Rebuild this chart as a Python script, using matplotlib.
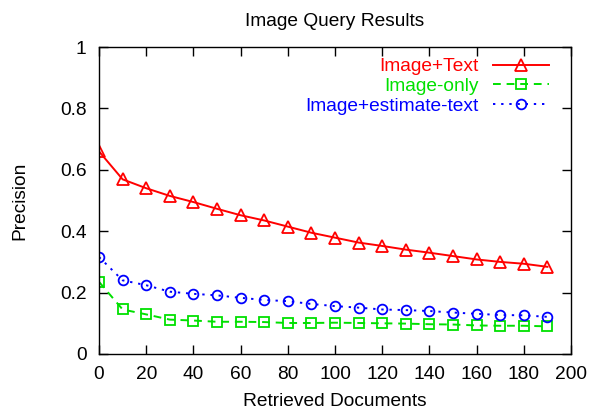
import matplotlib.pyplot as plt
import numpy as np

plt.rcParams['font.family'] = ['Liberation Sans', 'DejaVu Sans']

# retrieved documents (x) and precision per method
docs = list(range(0, 200, 10))
image_text = [0.66, 0.569, 0.54, 0.515, 0.495, 0.473, 0.452, 0.435, 0.415, 0.395,
              0.379, 0.363, 0.352, 0.340, 0.330, 0.319, 0.308, 0.300, 0.294, 0.284]
image_only = [0.235, 0.145, 0.129, 0.112, 0.109, 0.105, 0.105, 0.104, 0.101, 0.101,
              0.102, 0.101, 0.100, 0.099, 0.097, 0.096, 0.093, 0.092, 0.092, 0.090]
image_est = [0.316, 0.240, 0.224, 0.203, 0.196, 0.191, 0.183, 0.176, 0.172, 0.163,
             0.156, 0.151, 0.145, 0.143, 0.140, 0.135, 0.131, 0.127, 0.126, 0.121]

fig = plt.figure(figsize=(5.94, 4.12), dpi=100)
ax = fig.add_axes([0.1667, 0.1408, 0.7946, 0.745])

ax.plot(docs, image_text, color='#ff0000', lw=1.4, marker='^', ms=8,
        mfc='none', mew=1.3, label='Image+Text')
ax.plot(docs, image_only, color='#00e000', lw=1.4, marker='s', ms=7,
        mfc='none', mew=1.3, dashes=(4, 3), label='Image-only')
ax.plot(docs, image_est, color='#0000ff', lw=1.4, marker='o', ms=7,
        mfc='none', mew=1.3, dashes=(1.2, 3), label='Image+estimate-text')

fs = 13.8
ax.set_xlim(0, 200)
ax.set_ylim(0, 1)
ax.set_xticks(np.arange(0, 201, 20))
ax.set_yticks([0, 0.2, 0.4, 0.6, 0.8, 1])
ax.set_yticklabels(['0', '0.2', '0.4', '0.6', '0.8', '1'])
ax.tick_params(direction='in', top=True, right=True, length=6.5, width=1,
               labelsize=fs, pad=9)
for spine in ax.spines.values():
    spine.set_linewidth(1)

ax.set_title('Image Query Results', fontsize=fs, pad=15)
ax.set_xlabel('Retrieved Documents', fontsize=fs, labelpad=7)
ax.set_ylabel('Precision', fontsize=fs, labelpad=23)

ax.legend(loc='upper right', bbox_to_anchor=(0.953, 0.965), frameon=False,
          markerfirst=False, labelcolor='linecolor', fontsize=fs,
          handlelength=2.9, handletextpad=0.75, labelspacing=0.13,
          borderpad=0, borderaxespad=0)

fig.savefig('out.png', dpi=100)
